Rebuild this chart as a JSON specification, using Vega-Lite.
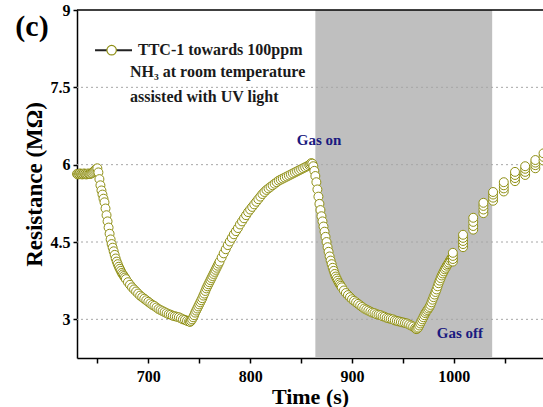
{
  "$schema": "https://vega.github.io/schema/vega-lite/v6.json",
  "width": 466,
  "height": 348,
  "autosize": {"type": "none"},
  "padding": {"left": 77, "top": 10, "right": 0, "bottom": 49},
  "config": {"font": "Liberation Serif", "view": {"stroke": null}},
  "datasets": {
    "main": [
      {"t":630,"r":5.82},{"t":631,"r":5.81},{"t":632,"r":5.82},{"t":633,"r":5.83},{"t":634,"r":5.82},{"t":635,"r":5.81},{"t":636,"r":5.82},{"t":637,"r":5.83},{"t":638,"r":5.82},{"t":639,"r":5.81},
      {"t":640,"r":5.82},{"t":641,"r":5.83},{"t":642,"r":5.82},{"t":643,"r":5.82},{"t":644,"r":5.83},{"t":645,"r":5.84},{"t":646,"r":5.86},{"t":647,"r":5.88},{"t":648,"r":5.9},{"t":649,"r":5.92},
      {"t":650,"r":5.93},{"t":651,"r":5.85},{"t":652,"r":5.72},{"t":653,"r":5.6},{"t":654,"r":5.5},{"t":655,"r":5.42},{"t":656,"r":5.34},{"t":657,"r":5.27},{"t":658,"r":5.15},{"t":659,"r":5.02},
      {"t":660,"r":4.9},{"t":661,"r":4.78},{"t":662,"r":4.66},{"t":663,"r":4.55},{"t":664,"r":4.46},{"t":665,"r":4.39},{"t":666,"r":4.32},{"t":667,"r":4.25},{"t":668,"r":4.18},{"t":669,"r":4.12},
      {"t":670,"r":4.07},{"t":671,"r":4.02},{"t":672,"r":3.98},{"t":673,"r":3.94},{"t":674,"r":3.9},{"t":675,"r":3.87},{"t":676,"r":3.84},{"t":677,"r":3.81},{"t":678,"r":3.78},{"t":680,"r":3.72},
      {"t":682,"r":3.67},{"t":684,"r":3.62},{"t":686,"r":3.58},{"t":688,"r":3.54},{"t":690,"r":3.5},{"t":692,"r":3.46},{"t":694,"r":3.43},{"t":696,"r":3.4},{"t":698,"r":3.37},{"t":700,"r":3.34},
      {"t":702,"r":3.31},{"t":704,"r":3.28},{"t":706,"r":3.26},{"t":708,"r":3.23},{"t":710,"r":3.2},{"t":712,"r":3.18},{"t":714,"r":3.16},{"t":716,"r":3.14},{"t":718,"r":3.12},{"t":720,"r":3.1},
      {"t":722,"r":3.09},{"t":724,"r":3.07},{"t":726,"r":3.06},{"t":728,"r":3.05},{"t":730,"r":3.04},{"t":732,"r":3.02},{"t":734,"r":3.0},{"t":736,"r":2.99},{"t":738,"r":2.97},{"t":740,"r":2.96},
      {"t":741,"r":2.95},{"t":742,"r":2.97},{"t":743,"r":3.0},{"t":744,"r":3.04},{"t":745,"r":3.08},{"t":746,"r":3.13},{"t":747,"r":3.17},{"t":748,"r":3.21},{"t":749,"r":3.25},{"t":750,"r":3.29},
      {"t":751,"r":3.33},{"t":752,"r":3.37},{"t":753,"r":3.41},{"t":754,"r":3.46},{"t":755,"r":3.5},{"t":756,"r":3.55},{"t":757,"r":3.6},{"t":758,"r":3.64},{"t":759,"r":3.68},{"t":760,"r":3.72},
      {"t":761,"r":3.76},{"t":762,"r":3.8},{"t":763,"r":3.84},{"t":764,"r":3.88},{"t":765,"r":3.92},{"t":766,"r":3.96},{"t":767,"r":4.0},{"t":768,"r":4.04},{"t":769,"r":4.08},{"t":770,"r":4.12},
      {"t":772,"r":4.2},{"t":774,"r":4.28},{"t":776,"r":4.36},{"t":778,"r":4.44},{"t":780,"r":4.51},{"t":782,"r":4.58},{"t":784,"r":4.65},{"t":786,"r":4.71},{"t":788,"r":4.77},{"t":790,"r":4.84},
      {"t":792,"r":4.9},{"t":794,"r":4.96},{"t":796,"r":5.02},{"t":798,"r":5.08},{"t":800,"r":5.13},{"t":802,"r":5.18},{"t":804,"r":5.23},{"t":806,"r":5.28},{"t":808,"r":5.33},{"t":810,"r":5.38},
      {"t":812,"r":5.43},{"t":814,"r":5.47},{"t":816,"r":5.51},{"t":818,"r":5.54},{"t":820,"r":5.57},{"t":822,"r":5.6},{"t":824,"r":5.63},{"t":826,"r":5.66},{"t":828,"r":5.69},{"t":830,"r":5.71},
      {"t":832,"r":5.73},{"t":834,"r":5.75},{"t":836,"r":5.77},{"t":838,"r":5.79},{"t":840,"r":5.81},{"t":842,"r":5.83},{"t":844,"r":5.85},{"t":846,"r":5.87},{"t":848,"r":5.89},{"t":850,"r":5.91},
      {"t":852,"r":5.93},{"t":854,"r":5.95},{"t":856,"r":5.97},{"t":858,"r":5.99},{"t":859,"r":6.01},{"t":860,"r":6.03},{"t":861,"r":6.02},{"t":862,"r":5.97},{"t":863,"r":5.88},{"t":864,"r":5.78},
      {"t":865,"r":5.66},{"t":866,"r":5.52},{"t":867,"r":5.38},{"t":868,"r":5.24},{"t":869,"r":5.12},{"t":870,"r":5.0},{"t":871,"r":4.9},{"t":872,"r":4.8},{"t":873,"r":4.7},{"t":874,"r":4.6},
      {"t":875,"r":4.5},{"t":876,"r":4.4},{"t":877,"r":4.31},{"t":878,"r":4.22},{"t":879,"r":4.14},{"t":880,"r":4.07},{"t":881,"r":4.0},{"t":882,"r":3.94},{"t":883,"r":3.88},{"t":884,"r":3.83},
      {"t":885,"r":3.79},{"t":886,"r":3.75},{"t":887,"r":3.71},{"t":888,"r":3.68},{"t":889,"r":3.65},{"t":890,"r":3.62},{"t":892,"r":3.56},{"t":894,"r":3.51},{"t":896,"r":3.47},{"t":898,"r":3.43},
      {"t":900,"r":3.39},{"t":902,"r":3.36},{"t":904,"r":3.33},{"t":906,"r":3.3},{"t":908,"r":3.27},{"t":910,"r":3.24},{"t":912,"r":3.21},{"t":914,"r":3.19},{"t":916,"r":3.17},{"t":918,"r":3.15},
      {"t":920,"r":3.13},{"t":922,"r":3.12},{"t":924,"r":3.1},{"t":926,"r":3.09},{"t":928,"r":3.08},{"t":930,"r":3.06},{"t":932,"r":3.05},{"t":934,"r":3.03},{"t":936,"r":3.02},{"t":938,"r":3.01},
      {"t":940,"r":3.0},{"t":942,"r":2.98},{"t":944,"r":2.97},{"t":946,"r":2.96},{"t":948,"r":2.95},{"t":950,"r":2.94},{"t":952,"r":2.93},{"t":954,"r":2.92},{"t":956,"r":2.9},{"t":958,"r":2.88},
      {"t":960,"r":2.86},{"t":962,"r":2.83},{"t":963,"r":2.81},{"t":964,"r":2.82},{"t":965,"r":2.84},{"t":966,"r":2.88},{"t":967,"r":2.92},{"t":968,"r":2.96},{"t":969,"r":3.0},{"t":970,"r":3.04},
      {"t":971,"r":3.08},{"t":972,"r":3.12},{"t":973,"r":3.15},{"t":974,"r":3.18},{"t":975,"r":3.21},{"t":976,"r":3.24},{"t":977,"r":3.28},{"t":978,"r":3.33},{"t":979,"r":3.38},{"t":980,"r":3.43},
      {"t":981,"r":3.48},{"t":982,"r":3.53},{"t":983,"r":3.58},{"t":984,"r":3.64},{"t":985,"r":3.7},{"t":986,"r":3.75},{"t":987,"r":3.8},{"t":988,"r":3.85},{"t":989,"r":3.89},{"t":990,"r":3.93},
      {"t":991,"r":3.97},{"t":992,"r":4.0},{"t":993,"r":4.04},{"t":994,"r":4.07},{"t":995,"r":4.1},{"t":996,"r":4.14},{"t":997,"r":4.17},{"t":998,"r":4.2},
      {"t":999,"r":4.12},{"t":999,"r":4.17},{"t":999,"r":4.23},{"t":999,"r":4.29},
      {"t":1009,"r":4.4},{"t":1009,"r":4.46},{"t":1009,"r":4.52},{"t":1009,"r":4.58},{"t":1009,"r":4.64},
      {"t":1019,"r":4.74},{"t":1019,"r":4.81},{"t":1019,"r":4.89},{"t":1019,"r":4.97},
      {"t":1029,"r":5.06},{"t":1029,"r":5.13},{"t":1029,"r":5.2},{"t":1029,"r":5.26},
      {"t":1038.5,"r":5.3},{"t":1038.5,"r":5.36},{"t":1038.5,"r":5.42},{"t":1038.5,"r":5.47},
      {"t":1049,"r":5.48},{"t":1049,"r":5.54},{"t":1049,"r":5.6},{"t":1049,"r":5.66},
      {"t":1060,"r":5.68},{"t":1060,"r":5.74},{"t":1060,"r":5.8},{"t":1060,"r":5.86},
      {"t":1070,"r":5.8},{"t":1070,"r":5.86},{"t":1070,"r":5.92},{"t":1070,"r":5.97},
      {"t":1080,"r":5.93},{"t":1080,"r":5.99},{"t":1080,"r":6.04},{"t":1080,"r":6.09},
      {"t":1088,"r":6.08},{"t":1088,"r":6.15},{"t":1088,"r":6.22}
    ]
  },
  "layer": [
    {
      "data": {"values": [{"on": 864, "off": 1037.6}]},
      "mark": {"type": "rect", "color": "#bfbfbf"},
      "encoding": {
        "x": {"field": "on", "type": "quantitative", "scale": {"domain": [630, 1087.5], "nice": false, "zero": false}},
        "x2": {"field": "off"}
      }
    },
    {
      "data": {"values": [{"g": 3}, {"g": 4.5}, {"g": 6}, {"g": 7.5}]},
      "mark": {"type": "rule", "color": "#a6a6a6", "strokeDash": [2, 3], "strokeWidth": 1},
      "encoding": {
        "y": {"field": "g", "type": "quantitative"}
      }
    },
    {
      "data": {"values": [{"g": 9}]},
      "mark": {"type": "rule", "color": "black", "strokeWidth": 1.5},
      "encoding": {
        "y": {"field": "g", "type": "quantitative"}
      }
    },
    {
      "data": {"name": "main"},
      "mark": {"type": "circle", "fill": "white", "stroke": "#8f8f14", "strokeWidth": 1, "opacity": 1, "size": 80},
      "encoding": {
        "x": {
          "field": "t", "type": "quantitative",
          "scale": {"domain": [630, 1087.5], "nice": false, "zero": false},
          "axis": {
            "title": "Time (s)", "values": [650, 700, 750, 800, 850, 900, 950, 1000, 1050],
            "labelExpr": "datum.value % 100 == 0 ? '' + datum.value : ''",
            "grid": false, "domainColor": "black", "domainWidth": 1.5, "tickColor": "black", "tickWidth": 1.5, "tickSize": 5,
            "labelFont": "Liberation Serif", "labelFontWeight": "bold", "labelFontSize": 16, "labelColor": "black", "labelPadding": 5,
            "titleFont": "Liberation Serif", "titleFontWeight": "bold", "titleFontSize": 22, "titleColor": "black", "titlePadding": 2
          }
        },
        "y": {
          "field": "r", "type": "quantitative",
          "scale": {"domain": [2.25, 9], "nice": false, "zero": false},
          "axis": {
            "title": "Resistance (MΩ)", "values": [3, 4.5, 6, 7.5, 9],
            "labelExpr": "'' + datum.value",
            "grid": false, "domainColor": "black", "domainWidth": 1.5, "tickColor": "black", "tickWidth": 1.5, "tickSize": 4,
            "labelFont": "Liberation Serif", "labelFontWeight": "bold", "labelFontSize": 16, "labelColor": "black", "labelPadding": 3,
            "titleFont": "Liberation Serif", "titleFontWeight": "bold", "titleFontSize": 23, "titleColor": "black", "titlePadding": 4
          }
        }
      }
    },
    {
      "data": {"values": [{"a": 647.7, "b": 684, "y": 8.22}]},
      "mark": {"type": "rule", "color": "#222222", "strokeWidth": 2},
      "encoding": {
        "x": {"field": "a", "type": "quantitative"},
        "x2": {"field": "b"},
        "y": {"field": "y", "type": "quantitative"}
      }
    },
    {
      "data": {"values": [{"a": 664, "y": 8.22}]},
      "mark": {"type": "circle", "fill": "white", "stroke": "#8f8f14", "strokeWidth": 1.2, "opacity": 1, "size": 90},
      "encoding": {
        "x": {"field": "a", "type": "quantitative"},
        "y": {"field": "y", "type": "quantitative"}
      }
    },
    {
      "data": {"values": [
        {"a": 689.9, "y": 8.22, "s": "TTC-1 towards 100ppm"},
        {"a": 682, "y": 7.8, "s": "NH₃ at room temperature"},
        {"a": 682, "y": 7.31, "s": "assisted with UV light"}
      ]},
      "mark": {"type": "text", "align": "left", "baseline": "middle", "font": "Liberation Serif", "fontWeight": "bold", "fontSize": 16, "color": "#1a1a1a"},
      "encoding": {
        "x": {"field": "a", "type": "quantitative"},
        "y": {"field": "y", "type": "quantitative"},
        "text": {"field": "s"}
      }
    },
    {
      "data": {"values": [
        {"a": 867.6, "y": 6.48, "s": "Gas on"},
        {"a": 1006, "y": 2.74, "s": "Gas off"}
      ]},
      "mark": {"type": "text", "align": "center", "baseline": "middle", "font": "Liberation Serif", "fontWeight": "bold", "fontSize": 15, "color": "#1a1a80"},
      "encoding": {
        "x": {"field": "a", "type": "quantitative"},
        "y": {"field": "y", "type": "quantitative"},
        "text": {"field": "s"}
      }
    },
    {
      "data": {"values": [{"a": 585.8, "y": 8.67, "s": "(c)"}]},
      "mark": {"type": "text", "align": "center", "baseline": "middle", "font": "Liberation Serif", "fontWeight": "bold", "fontSize": 30, "color": "black"},
      "encoding": {
        "x": {"field": "a", "type": "quantitative"},
        "y": {"field": "y", "type": "quantitative"},
        "text": {"field": "s"}
      }
    }
  ]
}
